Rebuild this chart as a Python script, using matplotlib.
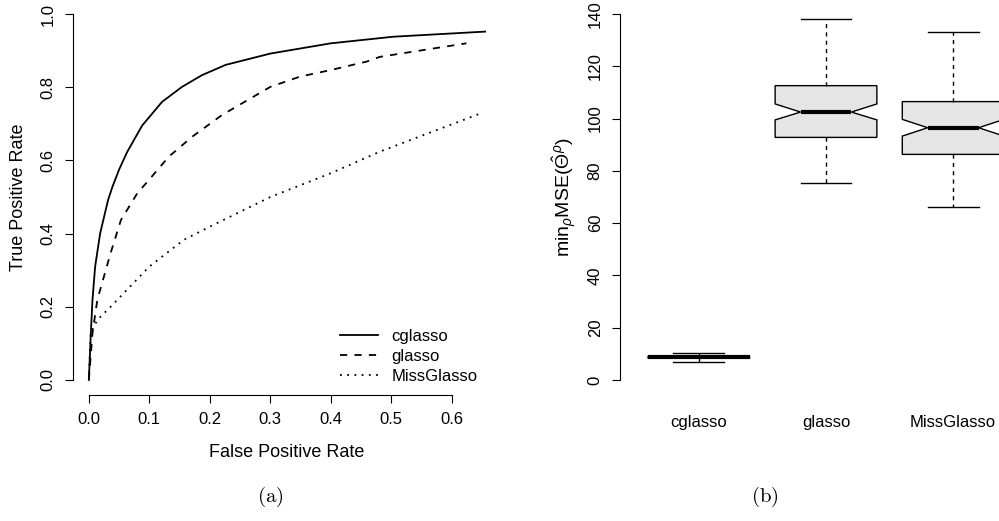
import matplotlib
matplotlib.use("Agg")
import matplotlib.pyplot as plt

plt.rcParams['font.family'] = ['Liberation Sans', 'DejaVu Sans']
plt.rcParams['mathtext.fontset'] = 'custom'
plt.rcParams['mathtext.rm'] = 'Liberation Sans'
plt.rcParams['mathtext.it'] = 'Liberation Sans:italic'

# ROC curves (a)
cglasso_fpr = [0.0, 0.0033, 0.006, 0.0104, 0.0187, 0.0318, 0.039, 0.05, 0.063, 0.088, 0.121, 0.154, 0.187,
               0.226, 0.3, 0.4, 0.503, 0.655]
cglasso_tpr = [0.0, 0.128, 0.219, 0.310, 0.401, 0.492, 0.528, 0.575, 0.622, 0.695, 0.760, 0.801, 0.833,
               0.861, 0.892, 0.92, 0.938, 0.952]

glasso_fpr = [0.0, 0.006, 0.014, 0.036, 0.053, 0.08, 0.1, 0.132, 0.171, 0.22, 0.3, 0.349, 0.4, 0.459, 0.481, 0.624]
glasso_tpr = [0.0, 0.128, 0.219, 0.347, 0.437, 0.51, 0.548, 0.61, 0.665, 0.724, 0.801, 0.829, 0.847, 0.87, 0.883, 0.92]

miss_fpr = [0.0, 0.003, 0.014, 0.036, 0.1, 0.157, 0.2, 0.3, 0.4, 0.481, 0.65]
miss_tpr = [0.0, 0.128, 0.164, 0.2, 0.31, 0.383, 0.419, 0.5, 0.565, 0.624, 0.73]

# boxplot summaries (b)
methods = ['cglasso', 'glasso', 'MissGlasso']
med = [8.7, 102.5, 96.5]
q1 = [8.3, 92.8, 86.3]
q3 = [9.1, 112.6, 106.5]
whislo = [7.0, 75.2, 66.2]
whishi = [10.4, 138.1, 133.0]
ci_lo = [8.5, 99.5, 93.3]
ci_hi = [8.9, 105.6, 99.7]

fig = plt.figure(figsize=(9.99, 5.21), dpi=100)

# ---- (a) ----
ax1 = fig.add_axes([73/999, 1 - 394.6/521, 428/999, 395.2/521])
ax1.plot(cglasso_fpr, cglasso_tpr, color='black', lw=1.3, label='cglasso')
ax1.plot(glasso_fpr, glasso_tpr, color='black', lw=1.3, linestyle=(0, (4, 4)), label='glasso')
ax1.plot(miss_fpr, miss_tpr, color='black', lw=1.3, linestyle=(0, (1, 3)), label='MissGlasso')
ax1.set_xlim(-0.0262, 0.6812)
ax1.set_ylim(-0.04, 1.04)
ax1.set_xticks([0, 0.1, 0.2, 0.3, 0.4, 0.5, 0.6])
ax1.set_xticklabels(['0.0', '0.1', '0.2', '0.3', '0.4', '0.5', '0.6'])
ax1.set_yticks([0, 0.2, 0.4, 0.6, 0.8, 1.0])
ax1.set_yticklabels(['0.0', '0.2', '0.4', '0.6', '0.8', '1.0'], rotation=90, va='center')
ax1.spines['top'].set_visible(False)
ax1.spines['right'].set_visible(False)
ax1.spines['left'].set_bounds(0, 1)
ax1.spines['bottom'].set_bounds(0, 0.6)
ax1.tick_params(direction='out', length=5.5, width=0.8, labelsize=12, pad=7)
ax1.set_xlabel('False Positive Rate', fontsize=13, labelpad=12)
ax1.set_ylabel('True Positive Rate', fontsize=13, labelpad=10)
ax1.legend(loc='lower right', frameon=False, fontsize=12, handlelength=2.3,
           handletextpad=0.8, labelspacing=0.3, bbox_to_anchor=(0.98, -0.01))

# ---- (b) ----
ax2 = fig.add_axes([620/999, 1 - 394.6/521, 412/999, 395.2/521])
stats = []
for i in range(len(methods)):
    stats.append(dict(label=methods[i], med=med[i], q1=q1[i], q3=q3[i],
                      whislo=whislo[i], whishi=whishi[i],
                      cilo=ci_lo[i], cihi=ci_hi[i], fliers=[]))
parts = ax2.bxp(stats, positions=[1, 2, 3], widths=0.8, shownotches=True,
                patch_artist=True, showfliers=False,
                boxprops=dict(facecolor='#e5e5e5', edgecolor='black', linewidth=1.0),
                medianprops=dict(color='black', linewidth=3),
                whiskerprops=dict(color='black', linewidth=1.0, linestyle=(0, (3, 3))),
                capprops=dict(color='black', linewidth=1.0))
parts['medians'][0].set_xdata([0.6, 1.4])
ax2.set_xlim(0.38, 3.62)
ax2.set_ylim(-5.6, 145.6)
ax2.set_yticks([0, 20, 40, 60, 80, 100, 120, 140])
ax2.set_yticklabels(['0', '20', '40', '60', '80', '100', '120', '140'], rotation=90, va='center')
ax2.spines['top'].set_visible(False)
ax2.spines['right'].set_visible(False)
ax2.spines['bottom'].set_visible(False)
ax2.spines['left'].set_bounds(0, 140)
ax2.tick_params(axis='y', direction='out', length=5.5, width=0.8, labelsize=12, pad=7)
ax2.tick_params(axis='x', length=0, labelsize=12, pad=15)
ax2.set_ylabel(r'$\mathrm{min}_{\rho}\mathrm{MSE}(\hat{\Theta}^{\rho})$', fontsize=14, labelpad=6)

fig.text(270/999, 1 - 497/521, r'$\mathrm{(a)}$', fontsize=15, ha='center', va='center', math_fontfamily='cm')
fig.text(765/999, 1 - 497/521, r'$\mathrm{(b)}$', fontsize=15, ha='center', va='center', math_fontfamily='cm')

fig.savefig('out.png', dpi=100)
